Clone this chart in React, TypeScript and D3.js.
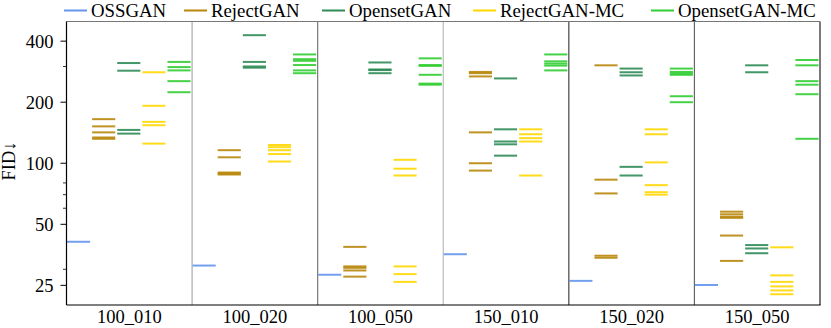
import React from "react";
import * as d3 from "d3";

const groups = ["100_010", "100_020", "100_050", "150_010", "150_020", "150_050"];
const methods = ["OSSGAN", "RejectGAN", "OpensetGAN", "RejectGAN-MC", "OpensetGAN-MC"];
const colors = ["#6495ED", "#B8860B", "#2E8B57", "#FFD700", "#32CD32"];

// FID of every run, one list per group
const ossgan = [[41], [31.3], [28.2], [35.6], [26.3], [25.1]];
const rejectGan = [
  [165, 152, 142, 134, 132],
  [116, 107, 90, 89, 88],
  [38.7, 31, 30.5, 29.6, 27.6],
  [282, 278, 268, 142, 100, 92],
  [304, 83, 71, 35, 34.2],
  [57.7, 56, 54.5, 53.8, 44, 33],
];
const opensetGan = [
  [312, 286, 146, 140],
  [428, 316, 300, 296],
  [314, 290, 288, 278],
  [262, 147, 128, 124, 109],
  [293, 281, 271, 96, 87],
  [304, 281, 39.5, 38, 36],
];
const rejectGanMc = [
  [281, 192, 160, 154, 125],
  [123, 120, 116, 111, 102],
  [104, 94, 87, 31, 28.4, 26],
  [147, 139, 133, 128, 87],
  [147, 139, 101, 78, 72, 70],
  [38.5, 28, 26, 24.7, 23.6, 22.6],
];
const opensetGanMc = [
  [316, 298, 287, 254, 224],
  [344, 326, 320, 305, 287, 278],
  [329, 305, 302, 273, 247, 244],
  [344, 318, 310, 303, 287],
  [293, 282, 277, 273, 214, 200],
  [323, 304, 254, 244, 219, 132],
];
const series = [ossgan, rejectGan, opensetGan, rejectGanMc, opensetGanMc];

const majorTicks = [25, 50, 100, 200, 400];
const minorTicks = [30, 60, 70, 80, 300];

const W = 831;
const H = 328;
const m = { left: 66.5, right: 820, top: 21.5, bottom: 305 };
const font = "'Liberation Serif', 'Times New Roman', serif";

// divider greys between groups (as in the figure)
const dividerColors = ["#aaa", "#777", "#bbb", "#444", "#666"];
const legendX = [64, 184, 322, 473, 651];

export default function App() {
  const x = d3.scaleBand<string>().domain(groups).range([m.left, m.right]);
  const inner = d3
    .scaleBand<string>()
    .domain(methods)
    .range([0, x.bandwidth()]);
  const y = d3.scaleLog().domain([20, 500]).range([m.bottom, m.top]);

  const marks: React.ReactNode[] = [];
  series.forEach((s, mi) => {
    s.forEach((vals, gi) => {
      const x0 = (x(groups[gi]) as number) + (inner(methods[mi]) as number) + 0.5;
      vals.forEach((v, k) => {
        marks.push(
          <line
            key={`m${mi}-${gi}-${k}`}
            x1={x0}
            x2={x0 + inner.bandwidth() - 2}
            y1={y(v)}
            y2={y(v)}
            stroke={colors[mi]}
            strokeWidth={2}
            strokeOpacity={0.9}
          />
        );
      });
    });
  });

  return (
    <svg
      width={W}
      height={H}
      style={{ position: "absolute", left: 0, top: 0, background: "white" }}
      fontFamily={font}
    >
      {/* dividers */}
      {groups.slice(1).map((g, i) => (
        <line
          key={`d${g}`}
          x1={x(g)}
          x2={x(g)}
          y1={m.top}
          y2={m.bottom}
          stroke={dividerColors[i]}
          strokeWidth={1.2}
        />
      ))}
      <line x1={m.right} x2={m.right} y1={m.top} y2={m.bottom} stroke="#222" strokeWidth={1.2} />
      <line x1={m.left} x2={m.right} y1={m.top} y2={m.top} stroke="#777" strokeWidth={1.2} />

      {marks}

      {/* axes */}
      <line x1={m.left} x2={m.left} y1={m.top} y2={m.bottom} stroke="black" strokeWidth={1.2} />
      <line x1={m.left} x2={m.right + 0.6} y1={m.bottom} y2={m.bottom} stroke="black" strokeWidth={1.2} />

      {majorTicks.map((t) => (
        <g key={`t${t}`}>
          <line x1={m.left - 6} x2={m.left} y1={y(t)} y2={y(t)} stroke="black" strokeWidth={1} />
          <text x={m.left - 13} y={y(t)} dy="0.35em" textAnchor="end" fontSize={18.5}>
            {t}
          </text>
        </g>
      ))}
      {minorTicks.map((t) => (
        <line key={`n${t}`} x1={m.left - 3.5} x2={m.left} y1={y(t)} y2={y(t)} stroke="black" strokeWidth={0.8} />
      ))}

      {groups.map((g) => (
        <text
          key={`x${g}`}
          x={(x(g) as number) + x.bandwidth() / 2}
          y={323}
          textAnchor="middle"
          fontSize={18.5}
        >
          {g}
        </text>
      ))}

      <text transform="translate(15,161) rotate(-90)" textAnchor="middle" fontSize={18.5}>
        FID↓
      </text>

      {/* legend */}
      {methods.map((name, i) => (
        <g key={`l${name}`}>
          <line x1={legendX[i]} x2={legendX[i] + 23} y1={10.5} y2={10.5} stroke={colors[i]} strokeWidth={2} />
          <text x={legendX[i] + 27} y={16.5} fontSize={18.8}>
            {name}
          </text>
        </g>
      ))}
    </svg>
  );
}
